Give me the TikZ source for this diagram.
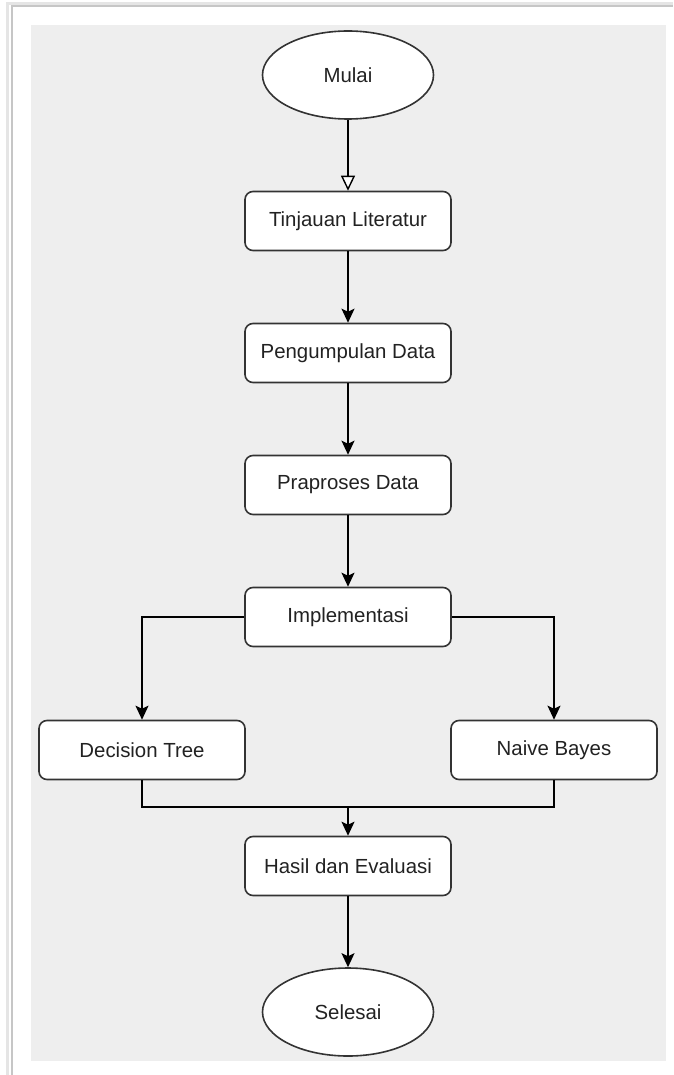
\documentclass[tikz,border=0pt]{standalone}
\usepackage{fontspec}
\setmainfont{Liberation Sans}
\usetikzlibrary{arrows.meta,shapes.geometric}
\definecolor{panel}{HTML}{EEEEEE}
\definecolor{edge}{HTML}{333333}
\definecolor{txt}{HTML}{222222}
\begin{document}
\begin{tikzpicture}[x=1pt,y=-1pt,
  every node/.style={font=\fontsize{20.4}{24}\selectfont, text=txt},
  procbox/.style={draw=edge, line width=1.6pt, fill=white, rounded corners=8pt,
    minimum width=206pt, minimum height=59pt, inner sep=0pt},
  termnode/.style={draw=edge, line width=1.6pt, fill=white, ellipse,
    minimum width=171pt, minimum height=88pt, inner sep=0pt},
  flow/.style={line width=1.6pt, draw=black, -{Stealth[length=14pt,width=13pt,inset=3pt]}},
  openflow/.style={line width=1.4pt, draw=black, -{Triangle[open,length=15pt,width=14pt,fill=white]}},
  plain/.style={line width=1.6pt, draw=black}]
\useasboundingbox (0,0) rectangle (673,1075);
\fill[white] (0,0) rectangle (673,1075);
% shadow frame
\draw[gray!20, line width=3pt] (7,1075) -- (7,4) -- (673,4);
\draw[gray!45, line width=1.5pt] (12,1075) -- (12,6) -- (673,6);
\fill[panel] (31,25) rectangle (666,1061);
% nodes
\node[termnode] (mulai) at (348,75) {Mulai};
\node[procbox] (tinjau) at (348,221) {Tinjauan Literatur};
\node[procbox] (kumpul) at (348,353) {Pengumpulan Data};
\node[procbox] (prapro) at (348,485) {Praproses Data};
\node[procbox] (impl) at (348,617) {Implementasi};
\node[procbox] (dtree) at (142,750) {Decision Tree};
\node[procbox] (nbayes) at (554,750) {Naive Bayes};
\node[procbox] (hasil) at (348,866) {Hasil dan Evaluasi};
\node[termnode] (selesai) at (348,1012) {Selesai};
\coordinate (merge) at (348,807);
% connectors
\draw[openflow] (mulai) -- (tinjau);
\draw[flow] (tinjau) -- (kumpul);
\draw[flow] (kumpul) -- (prapro);
\draw[flow] (prapro) -- (impl);
\draw[flow] (impl.west) -| (dtree.north);
\draw[flow] (impl.east) -| (nbayes.north);
\draw[plain] (dtree.south) |- (merge) -| (nbayes.south);
\draw[flow] (merge) -- (hasil);
\draw[flow] (hasil) -- (selesai);
\end{tikzpicture}
\end{document}
